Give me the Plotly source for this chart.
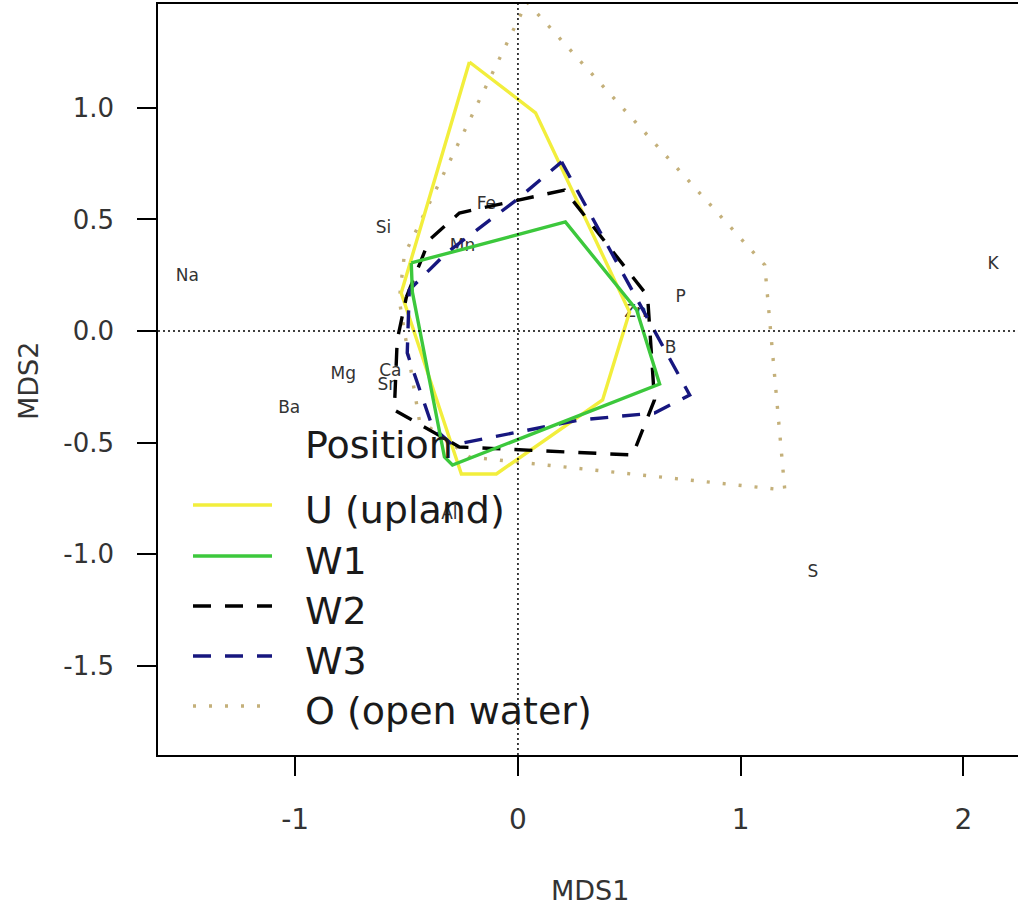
import plotly.graph_objects as go

# ---- data ----
groups = ["U (upland)", "W1", "W2", "W3", "O (open water)"]

U_x = [-0.218, 0.079, 0.501, 0.380, -0.097, -0.254, -0.524]
U_y = [1.206, 0.978, 0.085, -0.309, -0.641, -0.641, 0.170]

W1_x = [-0.479, 0.213, 0.533, 0.636, -0.294, -0.330, -0.474]
W1_y = [0.305, 0.489, 0.094, -0.238, -0.601, -0.565, 0.175]

W2_x = [-0.501, -0.398, -0.263, 0.209, 0.582, 0.613, 0.515, -0.263, -0.555, -0.542]
W2_y = [0.152, 0.408, 0.529, 0.632, 0.157, -0.309, -0.556, -0.520, -0.354, -0.040]

W3_x = [0.196, 0.578, 0.771, 0.613, 0.276, -0.294, -0.384, -0.497, -0.488, -0.321, -0.007]
W3_y = [0.758, 0.063, -0.287, -0.368, -0.399, -0.511, -0.430, -0.099, 0.184, 0.350, 0.587]

O_x = [0.040, 1.108, 1.198, 0.007, -0.218, -0.443, -0.533, -0.510]
O_y = [1.475, 0.296, -0.713, -0.587, -0.565, -0.399, 0.139, 0.341]

species = ["Na", "K", "Si", "Fe", "Mn", "P", "Zn", "B", "Mg", "Ca", "Sr", "Ba", "S", "Al"]
sp_x = [-1.484, 2.133, -0.604, -0.142, -0.249, 0.730, 0.528, 0.685, -0.784, -0.573, -0.591, -1.027, 1.324, -0.308]
sp_y = [0.242, 0.296, 0.457, 0.565, 0.377, 0.148, 0.081, -0.081, -0.197, -0.184, -0.247, -0.350, -1.085, -0.825]

x_ticks = [-1, 0, 1, 2]
y_ticks = [-1.5, -1.0, -0.5, 0.0, 0.5, 1.0]
y_ticklabels = ["-1.5", "-1.0", "-0.5", "0.0", "0.5", "1.0"]

# ---- styles ----
colors = ["#F2EE3C", "#3CC83C", "#000000", "#17177F", "#C4B07A"]
dashes = ["solid", "solid", "18px,14px", "18px,14px", "3px,13px"]
FONT = "DejaVu Sans"

polys = [(U_x, U_y), (W1_x, W1_y), (W2_x, W2_y), (W3_x, W3_y), (O_x, O_y)]

fig = go.Figure()

# species labels
fig.add_trace(go.Scatter(x=sp_x, y=sp_y, mode="text", text=species,
                         textfont=dict(family=FONT, size=17, color="#333333"),
                         showlegend=False, hoverinfo="skip"))

draw_order = [4, 0, 2, 3, 1]
for i in draw_order:
    px, py = polys[i]
    fig.add_trace(go.Scatter(x=list(px) + [px[0]], y=list(py) + [py[0]],
                             mode="lines", name=groups[i],
                             line=dict(color=colors[i], width=3.4, dash=dashes[i]),
                             showlegend=False))

# plot-area geometry in pixels (for manual legend)
X0, X1, Y0, Y1 = 158, 1018, 4, 755
def pxx(p):
    return (p - X0) / (X1 - X0)
def pxy(p):
    return (Y1 - p) / (Y1 - Y0)

shapes = []
annotations = []
# reference lines
shapes.append(dict(type="line", xref="x", yref="paper", x0=0, x1=0, y0=0, y1=1,
                   line=dict(color="black", width=1.5, dash="2px,3px")))
shapes.append(dict(type="line", xref="paper", yref="y", x0=0, x1=1, y0=0, y1=0,
                   line=dict(color="black", width=1.5, dash="2px,3px")))

# manual legend
row_y = [505, 556, 606, 656, 706]
for i, g in enumerate(groups):
    shapes.append(dict(type="line", xref="paper", yref="paper",
                       x0=pxx(193), x1=pxx(272), y0=pxy(row_y[i]), y1=pxy(row_y[i]),
                       line=dict(color=colors[i], width=3.4, dash=dashes[i])))
    annotations.append(dict(xref="paper", yref="paper", x=pxx(303), y=pxy(row_y[i] + 5),
                            text=g, showarrow=False, xanchor="left", yanchor="middle",
                            font=dict(family=FONT, size=38, color="#1a1a1a")))
annotations.append(dict(xref="paper", yref="paper", x=pxx(303), y=pxy(445),
                        text="Position", showarrow=False, xanchor="left", yanchor="middle",
                        font=dict(family=FONT, size=38, color="#1a1a1a")))
# axis titles
annotations.append(dict(xref="paper", yref="paper", x=pxx(590), y=pxy(890),
                        text="MDS1", showarrow=False, xanchor="center", yanchor="middle",
                        font=dict(family=FONT, size=27, color="#333333")))
annotations.append(dict(xref="paper", yref="paper", x=pxx(28), y=pxy(381),
                        text="MDS2", showarrow=False, xanchor="center", yanchor="middle",
                        textangle=-90,
                        font=dict(family=FONT, size=27, color="#333333")))

fig.update_layout(
    width=1018, height=909,
    margin=dict(l=X0, r=0, t=Y0, b=909 - Y1),
    plot_bgcolor="white", paper_bgcolor="white",
    showlegend=False,
    shapes=shapes, annotations=annotations,
    xaxis=dict(range=[-1.616, 2.245], tickvals=x_ticks, ticktext=[str(v) for v in x_ticks],
               showgrid=False, zeroline=False, showline=True, mirror=True,
               linecolor="black", linewidth=1.5, ticks="outside", ticklen=19,
               tickwidth=1.5, tickcolor="black", ticklabelstandoff=20,
               tickfont=dict(family=FONT, size=28, color="#333333")),
    yaxis=dict(range=[-1.901, 1.466], tickvals=y_ticks, ticktext=y_ticklabels,
               showgrid=False, zeroline=False, showline=True, mirror=False,
               linecolor="black", linewidth=1.5, ticks="outside", ticklen=19,
               tickwidth=1.5, tickcolor="black", ticklabelstandoff=18,
               tickfont=dict(family=FONT, size=26, color="#333333")),
)

fig.write_html("out.html")
